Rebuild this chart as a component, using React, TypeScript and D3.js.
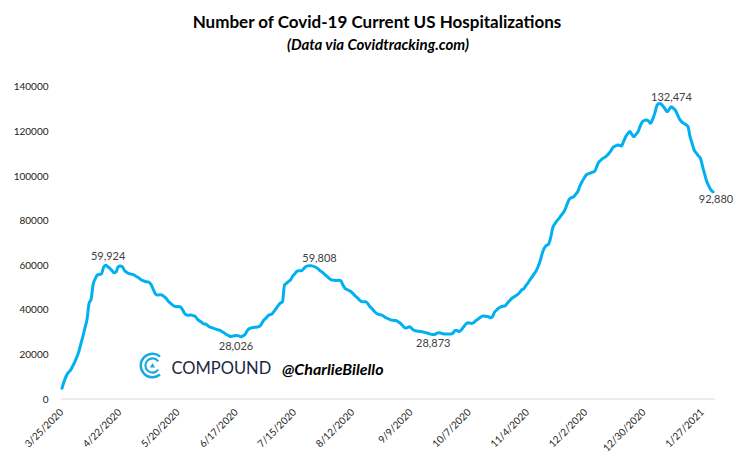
import React, { useRef, useEffect } from 'react';
import * as d3 from 'd3';

// Daily currently-hospitalized counts, starting 3/25/2020
const seriesStart = '3/25/2020';

const mar2020 = [4800, 7800, 10200, 11800, 12800, 14500, 16300];
const apr2020 = [
  18500, 21000, 24500, 27900, 31800, 35500, 42800, 44800, 51500, 54000,
  55600, 55900, 56200, 59100, 59924, 59300, 58600, 57600, 56600, 57000,
  59200, 59600, 59300, 57700, 56900, 56300, 56000, 55900, 55400, 54800
];
const may2020 = [
  54300, 53500, 53100, 52700, 52500, 52200, 51000, 48900, 47000, 46600,
  46700, 46600, 46000, 45200, 44000, 43100, 42300, 41600, 41400, 41500,
  41200, 40000, 38300, 37700, 37600, 37700, 37400, 37100, 35900, 35100,
  34500
];
const jun2020 = [
  33700, 33600, 33000, 32300, 32000, 31700, 31300, 31000, 30800, 30200,
  29600, 28900, 28500, 28026, 28200, 28400, 28500, 28300, 27900, 28300,
  28900, 30500, 31500, 31900, 32100, 32200, 32300, 32600, 33800, 35300
];
const jul2020 = [
  36200, 37300, 37800, 38200, 39400, 40600, 42000, 43000, 43600, 51200,
  51900, 52800, 53600, 55200, 56200, 57300, 57500, 57500, 58200, 59200,
  59700, 59808, 59700, 59500, 59100, 58500, 57600, 57000, 56100, 55300,
  54500
];
const aug2020 = [
  53700, 53300, 53200, 53100, 53300, 53100, 51200, 49700, 49100, 48600,
  48100, 47200, 46200, 45400, 44400, 43700, 43600, 43600, 42800, 41500,
  40600, 39500, 38500, 38100, 37800, 37500, 36900, 36300, 35900, 35500,
  35300
];
const sep2020 = [
  35200, 35000, 34400, 33700, 32700, 31800, 32000, 32400, 31800, 30900,
  30600, 30400, 30300, 30200, 30000, 29700, 29500, 29100, 28873, 28900,
  29400, 29700, 29600, 29300, 29100, 29100, 29100, 29100, 29600, 30700
];
const oct2020 = [
  30700, 30200, 31000, 32200, 33400, 34200, 34100, 33900, 34300, 35200,
  35800, 36500, 37100, 37200, 37000, 36900, 36400, 37000, 39000, 39900,
  40800, 41300, 41600, 41700, 42800, 43900, 44900, 45600, 46200, 46800,
  47700
];
const nov2020 = [
  48900, 49400, 50800, 52000, 53400, 54700, 56100, 57500, 59500, 62300,
  65600, 67800, 68900, 69500, 72600, 77000, 78600, 80000, 81000, 82400,
  83500, 85300, 87700, 89700, 90300, 90700, 91800, 93000, 95500, 97400
];
const dec2020 = [
  99000, 100400, 101000, 101300, 101700, 102000, 104000, 106200, 107000, 107900,
  108400, 109200, 110200, 111500, 112900, 113400, 113900, 113800, 113400, 115500,
  117600, 119000, 119900, 118600, 117600, 118700, 119900, 122400, 124300, 124900,
  125100
];
const jan2021 = [
  124600, 123600, 125500, 128100, 131500, 132474, 132300, 131300, 130000, 128800,
  130000, 131100, 130300, 129300, 127300, 125400, 124300, 123600, 123000, 122100,
  117500, 114500, 111500, 110300, 109000, 107900, 104200, 100800, 97500, 95500,
  93800
];
const feb2021 = [92880];

const tickLabels = [
  '3/25/2020', '4/22/2020', '5/20/2020', '6/17/2020', '7/15/2020', '8/12/2020',
  '9/9/2020', '10/7/2020', '11/4/2020', '12/2/2020', '12/30/2020', '1/27/2021'
];
const yTicks = [0, 20000, 40000, 60000, 80000, 100000, 120000, 140000];

// labelled points
const calloutDates = ['4/15/2020', '6/14/2020', '7/22/2020', '9/19/2020', '1/6/2021', '2/1/2021'];
// pixel nudges for each callout label (dx, dy)
const calloutNudges: [number, number][] = [[2.5, -5.5], [5.5, 13.5], [10, -4], [1, 12.7], [12.5, -3], [3, 11.5]];

const title = 'Number of Covid-19 Current US Hospitalizations';
const subtitle = '(Data via Covidtracking.com)';

const W = 736;
const H = 459;
const FONT = 'Lato, "Open Sans", sans-serif';

export default function App() {
  const svgRef = useRef<SVGSVGElement>(null);

  useEffect(() => {
    const svg = d3.select(svgRef.current);
    svg.selectAll('*').remove();

    const parse = d3.timeParse('%m/%d/%Y');
    const start = parse(seriesStart) as Date;
    const values = [
      ...mar2020, ...apr2020, ...may2020, ...jun2020, ...jul2020, ...aug2020,
      ...sep2020, ...oct2020, ...nov2020, ...dec2020, ...jan2021, ...feb2021
    ];
    const data = values.map((v, i) => ({ date: d3.timeDay.offset(start, i), value: v }));

    const x = d3.scaleTime()
      .domain([data[0].date, data[data.length - 1].date])
      .range([62, 713]);
    const y = d3.scaleLinear().domain([0, 140000]).range([399, 86.8]);

    // title
    svg.append('text')
      .attr('x', 377).attr('y', 27.5)
      .attr('text-anchor', 'middle')
      .attr('font-family', FONT).attr('font-weight', 700).attr('font-size', 17)
      .attr('fill', '#000')
      .text(title);
    svg.append('text')
      .attr('x', 378).attr('y', 49.5)
      .attr('text-anchor', 'middle')
      .attr('font-family', FONT).attr('font-weight', 700).attr('font-style', 'italic')
      .attr('font-size', 15)
      .attr('fill', '#000')
      .text(subtitle);

    // y axis labels
    svg.append('g')
      .selectAll('text')
      .data(yTicks)
      .enter()
      .append('text')
      .attr('x', 48.5)
      .attr('y', d => y(d))
      .attr('dy', '0.36em')
      .attr('text-anchor', 'end')
      .attr('font-family', FONT).attr('font-size', 10)
      .attr('fill', '#222')
      .text(d => String(d));

    // baseline
    svg.append('line')
      .attr('x1', 61).attr('x2', 715)
      .attr('y1', y(0)).attr('y2', y(0))
      .attr('stroke', '#d9d9d9').attr('stroke-width', 1);

    // x labels
    svg.append('g')
      .selectAll('text')
      .data(tickLabels)
      .enter()
      .append('text')
      .attr('transform', d => `translate(${x(parse(d) as Date) + 2},413) rotate(-45)`)
      .attr('text-anchor', 'end')
      .attr('font-family', FONT).attr('font-size', 10)
      .attr('fill', '#222')
      .text(d => d);

    // watermark
    const logo = svg.append('g').attr('transform', 'translate(152.5,365.5)');
    logo.append('path')
      .attr('d', d3.arc()({ innerRadius: 10.5, outerRadius: 13, startAngle: Math.PI * 0.78, endAngle: Math.PI * 2.22 }) as string)
      .attr('fill', '#1aa9e1');
    logo.append('path')
      .attr('d', d3.arc()({ innerRadius: 6, outerRadius: 8.2, startAngle: Math.PI * 0.7, endAngle: Math.PI * 2.3 }) as string)
      .attr('fill', '#1aa9e1');
    logo.append('path')
      .attr('d', 'M0,-2.6 L2.6,2 L-2.6,2 Z')
      .attr('fill', '#1aa9e1');
    svg.append('text')
      .attr('x', 171.5).attr('y', 374)
      .attr('font-family', FONT).attr('font-size', 16.5)
      .attr('fill', '#1c2744')
      .text('COMPOUND');
    svg.append('text')
      .attr('x', 282).attr('y', 375)
      .attr('font-family', '"Comic Sans MS", Lato, sans-serif')
      .attr('font-weight', 700).attr('font-style', 'italic').attr('font-size', 16)
      .attr('fill', '#000')
      .text('@CharlieBilello');

    // series line
    const line = d3.line<{ date: Date; value: number }>()
      .x(d => x(d.date))
      .y(d => y(d.value))
      .curve(d3.curveMonotoneX);
    svg.append('path')
      .datum(data)
      .attr('d', line)
      .attr('fill', 'none')
      .attr('stroke', '#00b0f0')
      .attr('stroke-width', 3)
      .attr('stroke-linejoin', 'round')
      .attr('stroke-linecap', 'round');

    // callouts
    const fmt = d3.format(',');
    calloutDates.forEach((ds, i) => {
      const dt = parse(ds) as Date;
      const pt = data.find(d => +d.date === +dt);
      if (!pt) return;
      const [dx, dy] = calloutNudges[i];
      svg.append('text')
        .attr('x', x(pt.date) + dx)
        .attr('y', y(pt.value) + dy)
        .attr('text-anchor', 'middle')
        .attr('font-family', FONT).attr('font-size', 11)
        .attr('fill', '#404040')
        .text(fmt(pt.value));
    });
  }, []);

  return (
    <svg
      ref={svgRef}
      width={W}
      height={H}
      style={{ position: 'absolute', left: 0, top: 0, background: '#fff' }}
    />
  );
}
